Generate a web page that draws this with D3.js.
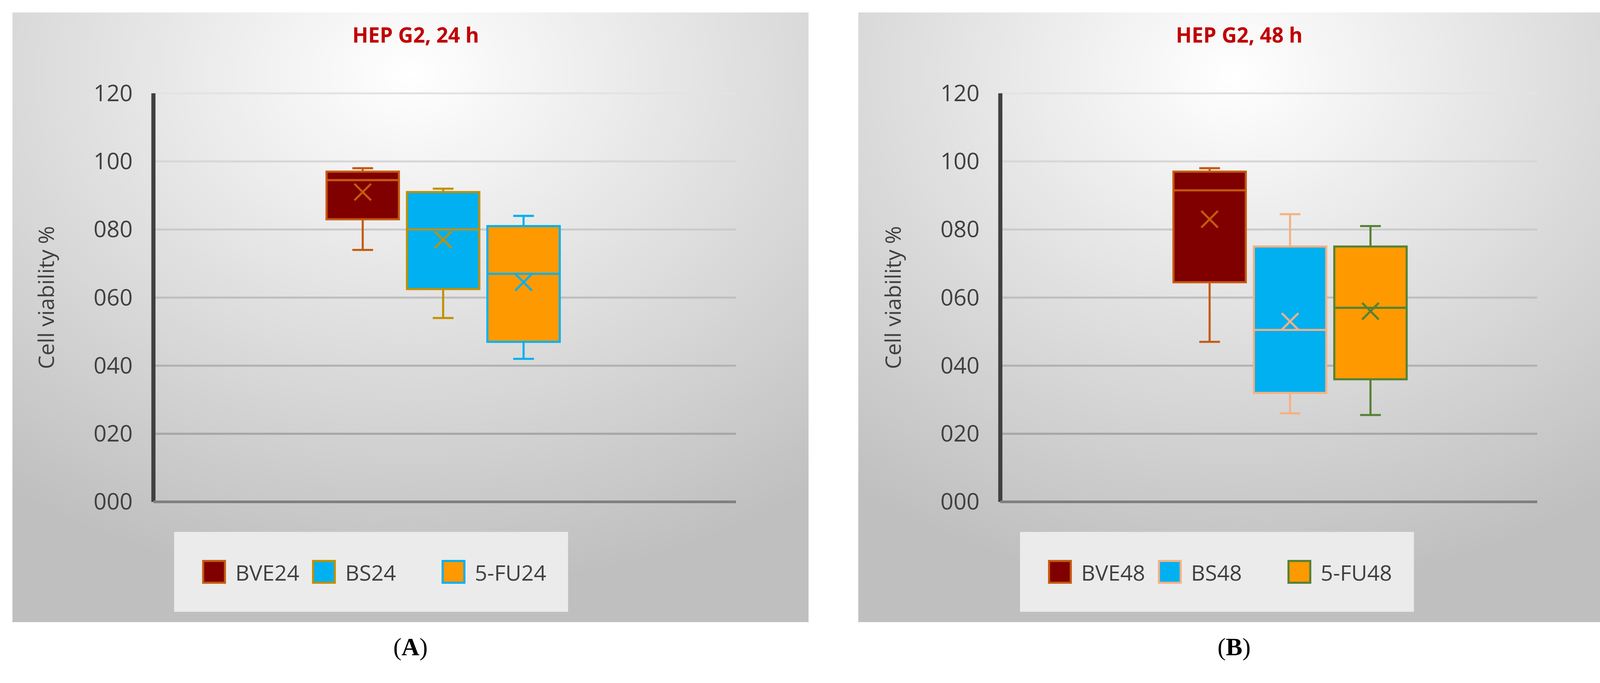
<!DOCTYPE html>
<html><head><meta charset="utf-8">
<script src="https://cdn.jsdelivr.net/npm/d3@7"></script>
<style>body{margin:0;background:#fff}svg{display:block}</style>
</head><body><svg></svg>
<script>
const yTicks = [0, 20, 40, 60, 80, 100, 120];
const tickLabels = ['000', '020', '040', '060', '080', '100', '120'];
const titles = ['HEP G2, 24 h', 'HEP G2, 48 h'];
const captions = ['A', 'B'];
const cats24 = ['BVE24', 'BS24', '5-FU24'];
const cats48 = ['BVE48', 'BS48', '5-FU48'];
// [min, q1, median, q3, max, mean]
const stats24 = [[74, 83, 94.5, 97, 98, 91], [54, 62.5, 80, 91, 92, 77], [42, 47, 67, 81, 84, 64.5]];
const stats48 = [[47, 64.5, 91.5, 97, 98, 83], [26, 32, 50.5, 75, 84.5, 53], [25.5, 36, 57, 75, 81, 56]];
const fills = ['#800000', '#00b0f0', '#ff9900'];
const strokes24 = ['#c55a11', '#bf9000', '#00b0f0'];
const strokes48 = ['#c55a11', '#f4b183', '#548235'];

const W = 4161, H = 1748, k = W / 1568;
const svg = d3.select('svg').attr('width', W).attr('height', H);
const defs = svg.append('defs');
const grad = defs.append('radialGradient').attr('id', 'bg')
  .attr('cx', '50%').attr('cy', '10%').attr('r', '85%');
grad.append('stop').attr('offset', '0%').attr('stop-color', '#ffffff');
grad.append('stop').attr('offset', '100%').attr('stop-color', '#bfbfbf');

const root = svg.append('g').attr('transform', `scale(${k})`);
const font = "'Open Sans', 'Liberation Sans', sans-serif";

const panels = [
  {x0: 12, x1: 780, ax: 148, cats: cats24, stats: stats24, strokes: strokes24},
  {x0: 828, x1: 1553, ax: 965, cats: cats48, stats: stats48, strokes: strokes48}
];

panels.forEach((p, i) => {
  const g = root.append('g');
  g.append('rect').attr('x', p.x0).attr('y', 12).attr('width', p.x1 - p.x0).attr('height', 588)
    .attr('fill', 'url(#bg)');
  const cx = (p.x0 + p.x1) / 2 + 5;
  g.append('text').attr('x', cx).attr('y', 41).attr('text-anchor', 'middle')
    .attr('font-family', font).attr('font-weight', 'bold').attr('font-size', 20)
    .attr('fill', '#c00000').text(titles[i]);

  const y = d3.scaleLinear().domain([0, 120]).range([484, 90]);
  const gridR = p.x1 - 70;
  g.selectAll('.grid').data(yTicks.slice(1)).enter().append('line')
    .attr('x1', p.ax).attr('x2', gridR).attr('y1', d => y(d)).attr('y2', d => y(d))
    .attr('stroke', d => d3.interpolateRgb('#9a9a9a', '#e3e3e3')(d / 120)).attr('stroke-width', 2);
  const axis = g.append('g').attr('transform', `translate(${p.ax},0)`)
    .call(d3.axisLeft(y).tickValues(yTicks).tickSize(0).tickPadding(20).tickFormat((d, j) => tickLabels[j]));
  axis.select('.domain').remove();
  axis.selectAll('text').attr('font-family', font).attr('font-size', 22).attr('fill', '#404040');
  g.append('line').attr('x1', p.ax).attr('x2', p.ax).attr('y1', y(120)).attr('y2', y(0))
    .attr('stroke', '#404040').attr('stroke-width', 4);
  g.append('line').attr('x1', p.ax).attr('x2', gridR).attr('y1', y(0)).attr('y2', y(0))
    .attr('stroke', '#7f7f7f').attr('stroke-width', 2.5);
  g.append('text').attr('transform', `translate(${p.ax - 96},${y(60)}) rotate(-90)`)
    .attr('text-anchor', 'middle').attr('font-family', font).attr('font-size', 21)
    .attr('fill', '#404040').text('Cell viability %');

  const x = d3.scaleBand().domain(p.cats).range([p.ax + 167, p.ax + 392]).paddingInner(0.1);
  const bw = x.bandwidth();
  p.cats.forEach((c, j) => {
    const [mn, q1, md, q3, mx, mean] = p.stats[j];
    const bx = x(c), m = bx + bw / 2, s = p.strokes[j];
    const bg = g.append('g').attr('stroke', s).attr('stroke-width', 2).attr('fill', 'none');
    bg.append('line').attr('x1', m).attr('x2', m).attr('y1', y(mx)).attr('y2', y(q3));
    bg.append('line').attr('x1', m).attr('x2', m).attr('y1', y(q1)).attr('y2', y(mn));
    bg.append('line').attr('x1', m - 10).attr('x2', m + 10).attr('y1', y(mx)).attr('y2', y(mx));
    bg.append('line').attr('x1', m - 10).attr('x2', m + 10).attr('y1', y(mn)).attr('y2', y(mn));
    bg.append('rect').attr('x', bx).attr('y', y(q3)).attr('width', bw).attr('height', y(q1) - y(q3))
      .attr('fill', fills[j]);
    bg.append('line').attr('x1', bx).attr('x2', bx + bw).attr('y1', y(md)).attr('y2', y(md));
    const r = 8, my = y(mean);
    bg.append('path').attr('d', `M${m - r},${my - r}L${m + r},${my + r}M${m - r},${my + r}L${m + r},${my - r}`);
  });

  const lx = p.x0 + 156, lw = 380;
  g.append('rect').attr('x', lx).attr('y', 513).attr('width', lw).attr('height', 77).attr('fill', '#ebebeb');
  const offs = [28, 134, 259];
  p.cats.forEach((c, j) => {
    const ox = lx + offs[j];
    g.append('rect').attr('x', ox).attr('y', 541).attr('width', 21).attr('height', 21)
      .attr('fill', fills[j]).attr('stroke', p.strokes[j]).attr('stroke-width', 2);
    g.append('text').attr('x', ox + 31).attr('y', 560).attr('font-family', font).attr('font-size', 21)
      .attr('fill', '#404040').text(c);
  });

  const cap = g.append('text').attr('x', cx - 5).attr('y', 632).attr('text-anchor', 'middle')
    .attr('font-family', "'Liberation Serif', serif").attr('font-size', 24);
  cap.append('tspan').text('(');
  cap.append('tspan').attr('font-weight', 'bold').text(captions[i]);
  cap.append('tspan').text(')');
});
</script></body></html>
